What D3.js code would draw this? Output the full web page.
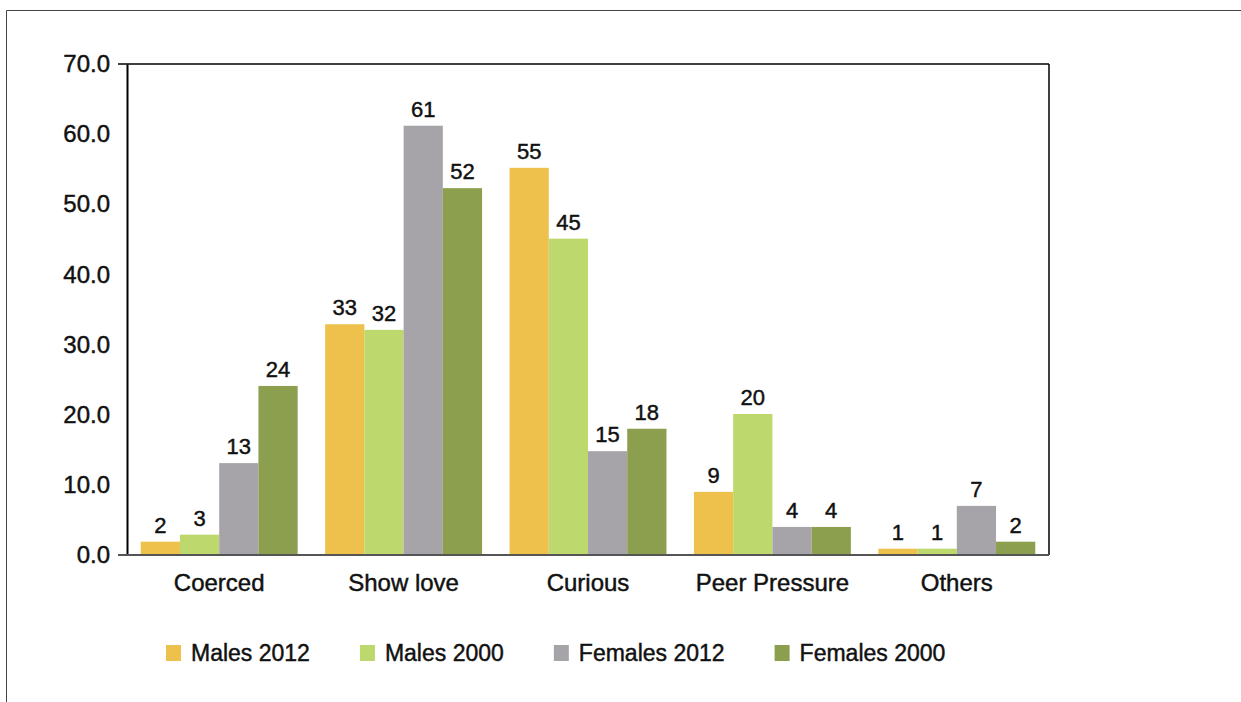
<!DOCTYPE html>
<html>
<head>
<meta charset="utf-8">
<script src="https://cdn.jsdelivr.net/npm/d3@7"></script>
<style>
  body { margin: 0; background: #fff; }
  text { font-family: "Liberation Sans", Arial, Helvetica, sans-serif; fill: #111; stroke: #111; stroke-width: 0.45px; }
</style>
</head>
<body>
<script>
var categories = ["Coerced", "Show love", "Curious", "Peer Pressure", "Others"];
var seriesNames = ["Males 2012", "Males 2000", "Females 2012", "Females 2000"];
var males2012 = [1.9, 32.9, 55.2, 9.0, 0.9];
var males2000 = [2.9, 32.1, 45.1, 20.1, 0.9];
var females2012 = [13.1, 61.2, 14.8, 4.0, 7.0];
var females2000 = [24.1, 52.3, 18.0, 4.0, 1.9];
var seriesValues = [males2012, males2000, females2012, females2000];
var colors = ["#edc14c", "#bdd86d", "#a6a4a9", "#8b9f4f"];
var yTicks = [0, 10, 20, 30, 40, 50, 60, 70];

var W = 1241, H = 702;
var margin = {left: 127, right: 192, top: 64, bottom: 147};

var svg = d3.select("body").append("svg")
    .attr("width", W)
    .attr("height", H);

// outer frame (top and left edges only visible)
svg.append("line").attr("x1", 6.5).attr("x2", W).attr("y1", 10.5).attr("y2", 10.5)
    .attr("stroke", "#444").attr("stroke-width", 1);
svg.append("line").attr("x1", 6.5).attr("x2", 6.5).attr("y1", 10.5).attr("y2", H)
    .attr("stroke", "#444").attr("stroke-width", 1);

var x0 = d3.scaleBand()
    .domain(categories)
    .range([margin.left, W - margin.right])
    .paddingInner(0.149)
    .paddingOuter(0.0745);

var x1 = d3.scaleBand()
    .domain(d3.range(seriesNames.length))
    .range([0, x0.bandwidth()]);

var y = d3.scaleLinear()
    .domain([0, 70])
    .range([H - margin.bottom, margin.top]);

// bars
seriesValues.forEach(function(vals, s) {
  svg.append("g")
    .selectAll("rect")
    .data(vals)
    .enter().append("rect")
      .attr("x", function(d, i) { return x0(categories[i]) + x1(s); })
      .attr("y", function(d) { return y(d); })
      .attr("width", x1.bandwidth())
      .attr("height", function(d) { return y(0) - y(d); })
      .attr("fill", colors[s]);

  svg.append("g")
    .selectAll("text")
    .data(vals)
    .enter().append("text")
      .attr("x", function(d, i) { return x0(categories[i]) + x1(s) + x1.bandwidth() / 2; })
      .attr("y", function(d) { return y(d) - 9; })
      .attr("text-anchor", "middle")
      .attr("font-size", "22px")
      .text(function(d) { return Math.round(d); });
});

// plot frame top & right
svg.append("line").attr("x1", margin.left - 9).attr("x2", W - margin.right)
    .attr("y1", y(70)).attr("y2", y(70)).attr("stroke", "#000").attr("stroke-width", 1.5);
svg.append("line").attr("x1", W - margin.right).attr("x2", W - margin.right)
    .attr("y1", y(70)).attr("y2", y(0)).attr("stroke", "#000").attr("stroke-width", 1.5);

// y axis
var yAxis = svg.append("g")
    .attr("transform", "translate(" + margin.left + ",0)")
    .call(d3.axisLeft(y).tickValues(yTicks).tickSize(0).tickPadding(17)
      .tickFormat(d3.format(".1f")));
yAxis.select(".domain").attr("stroke", "#000").attr("stroke-width", 2);
yAxis.selectAll("text").attr("font-size", "24px").attr("fill", "#111")
    .attr("font-family", "Liberation Sans, Arial, sans-serif");

// baseline
svg.append("line").attr("x1", margin.left - 9).attr("x2", W - margin.right)
    .attr("y1", y(0)).attr("y2", y(0)).attr("stroke", "#555").attr("stroke-width", 2);

// category labels
svg.append("g")
  .selectAll("text")
  .data(categories)
  .enter().append("text")
    .attr("x", function(d) { return x0(d) + x0.bandwidth() / 2; })
    .attr("y", y(0) + 36)
    .attr("text-anchor", "middle")
    .attr("font-size", "24px")
    .text(function(d) { return d; });

// legend
var legend = svg.append("g").attr("transform", "translate(166,645)");
var lx = 0;
seriesNames.forEach(function(name, s) {
  var g = legend.append("g").attr("transform", "translate(" + lx + ",0)");
  g.append("rect").attr("width", 15).attr("height", 16).attr("fill", colors[s]);
  var t = g.append("text").attr("x", 25).attr("y", 16)
      .attr("font-size", "23px").text(name);
  lx += 25 + t.node().getComputedTextLength() + 50;
});
</script>
</body>
</html>
